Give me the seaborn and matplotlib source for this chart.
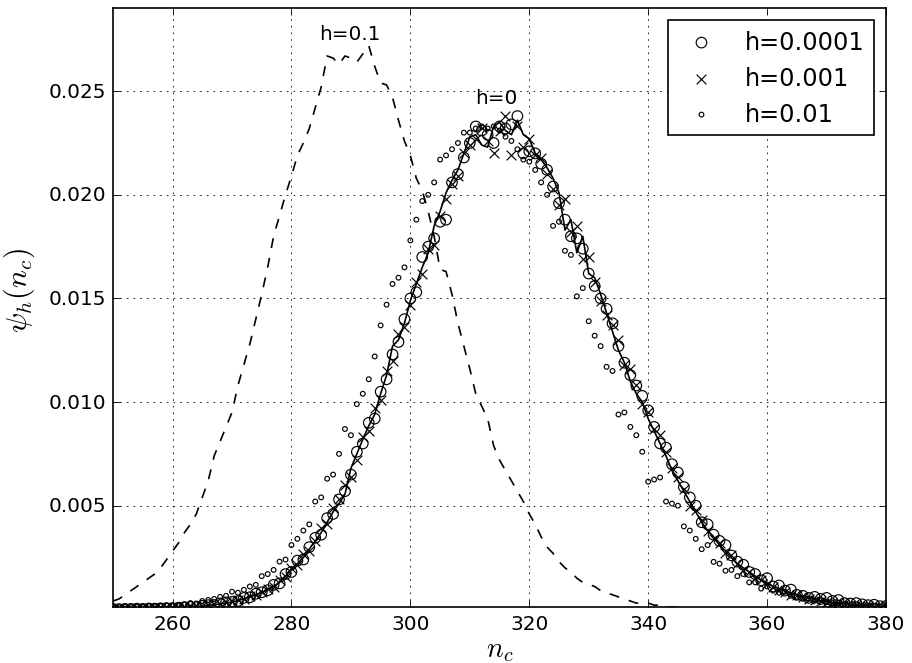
import numpy as np
import matplotlib
matplotlib.use("Agg")
import matplotlib.pyplot as plt
from matplotlib.ticker import FormatStrFormatter
import seaborn as sns

# valores de n_c (inteiros)
n_c = np.arange(250, 381)
n_c_h01 = np.arange(250, 347)

# h=0 (linha continua)
psi_h0 = [
    .00001, .00001, .00001, .00002, .00002, .00002, .00003, .00003, .00004, .00005,
    .00006, .00007, .00009, .00011, .00013, .00016, .00019, .00022, .00026, .00030,
    .00035, .00042, .00050, .00060, .00070, .00080, .00095, .00110, .00130, .00160,
    .00190, .00220, .00250, .00290, .00330, .00370, .00420, .00470, .00510, .00555,
    .00680, .00750, .00820, .00885, .00940, .01040, .01130, .01270, .01300, .01380,
    .01490, .01570, .01650, .01720, .01850, .01920, .02010, .02070, .02120, .02200,
    .02280, .02290, .02240, .02230, .02330, .02350, .02310, .02290, .02360, .02290,
    .02270, .02200, .02170, .02130, .02080, .02010, .01830, .01880, .01720, .01800,
    .01620, .01600, .01520, .01430, .01340, .01250, .01190, .01100, .01040, .01000,
    .00920, .00860, .00800, .00740, .00670, .00620, .00570, .00520, .00470, .00420,
    .00380, .00350, .00310, .00280, .00250, .00220, .00200, .00180, .00160, .00140,
    .00130, .00110, .00100, .00090, .00080, .00070, .00060, .00060, .00050, .00040,
    .00040, .00030, .00030, .00030, .00020, .00020, .00020, .00020, .00010, .00010,
    .00010,
]

# h=0.1 (tracejada)
psi_h01 = [
    .0004, .0005, .0007, .0009, .0011, .0013, .0015, .0017, .0020, .0024,
    .0028, .0032, .0037, .0041, .0046, .0054, .0062, .0074, .0081, .0088,
    .0095, .0108, .0118, .0128, .0140, .0152, .0165, .0180, .0190, .0200,
    .0209, .0219, .0225, .0232, .0242, .0252, .0267, .0266, .0263, .0267,
    .0266, .0264, .0268, .0272, .0262, .0254, .0253, .0247, .0236, .0226,
    .0219, .0208, .0202, .0192, .0180, .0164, .0163, .0152, .0138, .0127,
    .0116, .0104, .0098, .0092, .0079, .0072, .0067, .0062, .0057, .0052,
    .0046, .0041, .0035, .0030, .0027, .0023, .0020, .0018, .0015, .0013,
    .0012, .0011, .0009, .0008, .0007, .0006, .0005, .0004, .0003, .0003,
    .0003, .0002, .0002, .0001, .0001, .0001, .00005,
]

# h=0.0001 (circulos grandes)
psi_h00001 = [
    .00002, .00001, .00002, .00002, .00003, .00002, .00004, .00003, .00005, .00006,
    .00005, .00008, .00010, .00012, .00011, .00017, .00020, .00021, .00028, .00033,
    .00036, .00040, .00055, .00058, .00075, .00082, .00092, .00118, .00125, .00170,
    .00180, .00235, .00240, .00300, .00345, .00360, .00440, .00460, .00530, .00570,
    .00650, .00760, .00800, .00900, .00920, .01050, .01110, .01230, .01290, .01400,
    .01500, .01530, .01700, .01750, .01790, .01870, .01880, .02060, .02100, .02180,
    .02250, .02330, .02310, .02290, .02250, .02330, .02320, .02340, .02380, .02200,
    .02210, .02200, .02150, .02120, .02040, .01960, .01880, .01800, .01790, .01740,
    .01620, .01560, .01500, .01450, .01380, .01270, .01190, .01130, .01080, .01030,
    .00960, .00880, .00800, .00780, .00700, .00660, .00590, .00540, .00500, .00420,
    .00410, .00360, .00330, .00310, .00260, .00230, .00215, .00180, .00170, .00140,
    .00150, .00110, .00115, .00090, .00095, .00070, .00065, .00055, .00060, .00050,
    .00055, .00040, .00045, .00030, .00028, .00030, .00024, .00020, .00022, .00015,
    .00016,
]

# h=0.001 (x)
psi_h0001 = [
    .00001, .00002, .00001, .00002, .00002, .00003, .00003, .00004, .00004, .00006,
    .00007, .00007, .00010, .00011, .00015, .00016, .00021, .00024, .00027, .00034,
    .00038, .00045, .00050, .00064, .00068, .00085, .00100, .00108, .00140, .00155,
    .00200, .00215, .00265, .00280, .00330, .00390, .00410, .00490, .00530, .00600,
    .00640, .00720, .00830, .00860, .00970, .01010, .01150, .01200, .01330, .01360,
    .01470, .01580, .01620, .01740, .01760, .01900, .01980, .02050, .02090, .02200,
    .02240, .02270, .02320, .02260, .02200, .02310, .02380, .02190, .02330, .02230,
    .02270, .02190, .02180, .02100, .02030, .01950, .01980, .01820, .01850, .01690,
    .01700, .01580, .01490, .01420, .01370, .01300, .01180, .01160, .01080, .00990,
    .00950, .00870, .00840, .00760, .00680, .00640, .00580, .00500, .00480, .00430,
    .00380, .00340, .00320, .00270, .00260, .00220, .00190, .00180, .00150, .00140,
    .00120, .00110, .00095, .00085, .00070, .00068, .00058, .00050, .00046, .00040,
    .00036, .00032, .00028, .00026, .00022, .00020, .00017, .00016, .00013, .00012,
    .00011,
]

# h=0.01 (circulos pequenos)
psi_h001 = [
    .00012, .00010, .00012, .00011, .00013, .00012, .00015, .00014, .00016, .00018,
    .00020, .00019, .00024, .00030, .00028, .00040, .00045, .00050, .00060, .00065,
    .00085, .00080, .00094, .00110, .00118, .00160, .00170, .00190, .00230, .00240,
    .00310, .00340, .00380, .00410, .00520, .00540, .00630, .00650, .00750, .00870,
    .00840, .00990, .01040, .01110, .01220, .01370, .01470, .01570, .01600, .01650,
    .01780, .01880, .01970, .02000, .02060, .02170, .02190, .02220, .02250, .02300,
    .02300, .02320, .02330, .02320, .02330, .02310, .02280, .02260, .02220, .02170,
    .02160, .02120, .02060, .02000, .01850, .01870, .01730, .01710, .01510, .01550,
    .01390, .01320, .01270, .01170, .01150, .00940, .00950, .00880, .00840, .00760,
    .00616, .00626, .00636, .00520, .00510, .00500, .00400, .00380, .00340, .00290,
    .00310, .00229, .00220, .00186, .00190, .00160, .00170, .00130, .00130, .00100,
    .00110, .00090, .00080, .00085, .00065, .00060, .00055, .00050, .00042, .00045,
    .00035, .00030, .00032, .00025, .00022, .00024, .00018, .00016, .00017, .00014,
    .00013,
]

x_ticks = [260, 280, 300, 320, 340, 360, 380]
y_ticks = [0.005, 0.010, 0.015, 0.020, 0.025]

# estilo antigo do matplotlib
plt.style.use('classic')
plt.rcParams['font.family'] = ['DejaVu Sans']

fig, ax = plt.subplots(figsize=(7.6, 5.5333), dpi=120)
fig.patch.set_facecolor('white')
fig.subplots_adjust(left=0.124, right=0.9715, bottom=0.084, top=0.986)

sns.lineplot(x=n_c, y=psi_h0, color='black', lw=1, errorbar=None, ax=ax)
sns.lineplot(x=n_c_h01, y=psi_h01, color='black', lw=1, linestyle='--', errorbar=None, ax=ax)

sns.scatterplot(x=n_c, y=psi_h00001, marker='o', s=40, facecolor='none', edgecolor='black',
                linewidth=0.7, label='h=0.0001', ax=ax)
sns.scatterplot(x=n_c, y=psi_h0001, marker='x', s=34, color='black',
                linewidth=0.7, label='h=0.001', ax=ax)
sns.scatterplot(x=n_c, y=psi_h001, marker='o', s=8, facecolor='none', edgecolor='black',
                linewidth=0.7, label='h=0.01', ax=ax)

ax.text(289.8, 0.0278, 'h=0.1', ha='center', va='center', fontsize=12)
ax.text(314.4, 0.0247, 'h=0', ha='center', va='center', fontsize=12)

ax.set_xlim(250, 380)
ax.set_ylim(0.0001, 0.029)
ax.set_xticks(x_ticks)
ax.set_yticks(y_ticks)
ax.yaxis.set_major_formatter(FormatStrFormatter('%.3f'))
ax.grid(True)

ax.set_xlabel(r'$n_c$', fontsize=17, labelpad=1)
ax.set_ylabel(r'$\psi_h(n_c)$', fontsize=18)
ax.yaxis.set_label_coords(-0.098, 0.53)

leg = ax.legend(loc='upper right', scatterpoints=1, fontsize='large')
leg.get_frame().set_edgecolor('black')

fig.savefig('out.png', dpi=120, facecolor='white')
